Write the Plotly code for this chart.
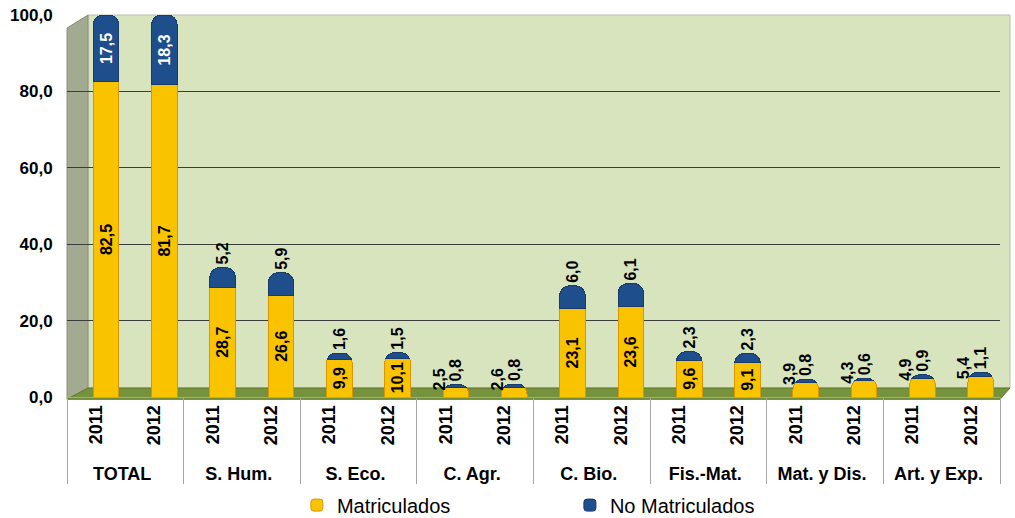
import plotly.graph_objects as go

groups = ["TOTAL", "S. Hum.", "S. Eco.", "C. Agr.", "C. Bio.", "Fis.-Mat.", "Mat. y Dis.", "Art. y Exp."]
years = ["2011", "2012"]
matriculados = [82.5, 81.7, 28.7, 26.6, 9.9, 10.1, 2.5, 2.6, 23.1, 23.6, 9.6, 9.1, 3.9, 4.3, 4.9, 5.4]
no_matriculados = [17.5, 18.3, 5.2, 5.9, 1.6, 1.5, 0.8, 0.8, 6.0, 6.1, 2.3, 2.3, 0.8, 0.6, 0.9, 1.1]
series_names = ["Matriculados", "No Matriculados"]
y_ticks = [0, 20, 40, 60, 80, 100]

FONT = "Arial, Liberation Sans, sans-serif"
YELLOW = "#f9c300"
YELLOW_EDGE = "#d99600"
BLUE = "#1f4e8c"
BLUE_EDGE = "#173b6a"

x_outer = [g for g in groups for _ in years]
x_inner = [y for _ in groups for y in years]

def fmt(v):
    return f"{v:.1f}".replace(".", ",")

inside_min = 8.0
m_text = [fmt(v) if v >= inside_min else "" for v in matriculados]
n_pos = ["inside" if m > 50 else "outside" for m in matriculados]
n_col = ["white" if m > 50 else "black" for m in matriculados]

fig = go.Figure()
fig.add_trace(go.Bar(
    name=series_names[0], x=[x_outer, x_inner], y=matriculados,
    marker=dict(color=YELLOW, line=dict(color=YELLOW_EDGE, width=1)),
    width=0.44, offset=-0.05,
    text=m_text, textposition="inside", insidetextanchor="middle",
    textangle=-90, constraintext="none",
    textfont=dict(family=FONT, size=16, color="black", weight="bold"),
    hoverinfo="skip",
))
fig.add_trace(go.Bar(
    name=series_names[1], x=[x_outer, x_inner], y=no_matriculados,
    marker=dict(color=BLUE, line=dict(color=BLUE_EDGE, width=1), cornerradius=10),
    width=0.44, offset=-0.05,
    text=[fmt(v) for v in no_matriculados], textposition=n_pos,
    insidetextanchor="middle", textangle=-90, constraintext="none",
    textfont=dict(family=FONT, size=16, color=n_col, weight="bold"),
    cliponaxis=False, hoverinfo="skip",
))

# small Matriculados labels placed beside the bars
annotations = []
for i, v in enumerate(matriculados):
    if v < inside_min:
        annotations.append(dict(
            x=i, y=v, xref="x", yref="y", text=fmt(v), showarrow=False,
            textangle=-90, xshift=-7, yshift=8, yanchor="middle",
            font=dict(family=FONT, size=16, color="black", weight="bold"),
        ))

# decorative 3D-like walls
shapes = [
    dict(type="rect", xref="paper", yref="paper", x0=0.0225, x1=1.0107, y0=0.0236, y1=1.0,
         fillcolor="#d8e4bd", line=dict(color="#b8c0a8", width=1), layer="below"),
    dict(type="path", xref="paper", yref="paper",
         path="M0,-0.006 L0,0.966 L0.0225,1.0 L0.0225,0.0236 Z",
         fillcolor="#a2aa92", line=dict(color="#8a9078", width=1), layer="below"),
    dict(type="path", xref="paper", yref="paper",
         path="M0,-0.006 L1,-0.006 L1.0107,0.0236 L0.0225,0.0236 Z",
         fillcolor="#76923c", line=dict(color="#5f7a2c", width=1), layer="below"),
]

fig.update_layout(
    width=1015, height=518,
    margin=dict(l=67, r=15, t=15, b=121, autoexpand=False),
    barmode="stack", barcornerradius=10,
    paper_bgcolor="white", plot_bgcolor="rgba(0,0,0,0)",
    separators=",.",
    font=dict(family=FONT, color="black"),
    shapes=shapes, annotations=annotations,
    showlegend=True,
    legend=dict(orientation="h", x=0.2464, xanchor="left", y=-0.232, yanchor="top",
                font=dict(family=FONT, size=20, color="black"),
                entrywidth=228, entrywidthmode="pixels", traceorder="normal"),
    xaxis=dict(type="multicategory", tickangle=-90, automargin=False,
               tickfont=dict(family=FONT, size=18, color="black", weight="bold"),
               showline=True, linecolor="#a6a6a6", linewidth=1,
               showdividers=True, dividercolor="#a6a6a6", dividerwidth=1,
               ticks="", showgrid=False),
    yaxis=dict(range=[0, 100], tickvals=y_ticks, tickformat=".1f", automargin=False,
               tickfont=dict(family=FONT, size=17, color="black", weight="bold"),
               showgrid=True, gridcolor="#3c3c3c", gridwidth=1.2,
               zeroline=False, showline=False,
               ticks="outside", ticklen=10, tickcolor="rgba(0,0,0,0)"),
)

fig.write_html("out.html", config={"displayModeBar": False},
               post_script="document.body.style.margin='0';document.body.style.overflow='hidden';")
